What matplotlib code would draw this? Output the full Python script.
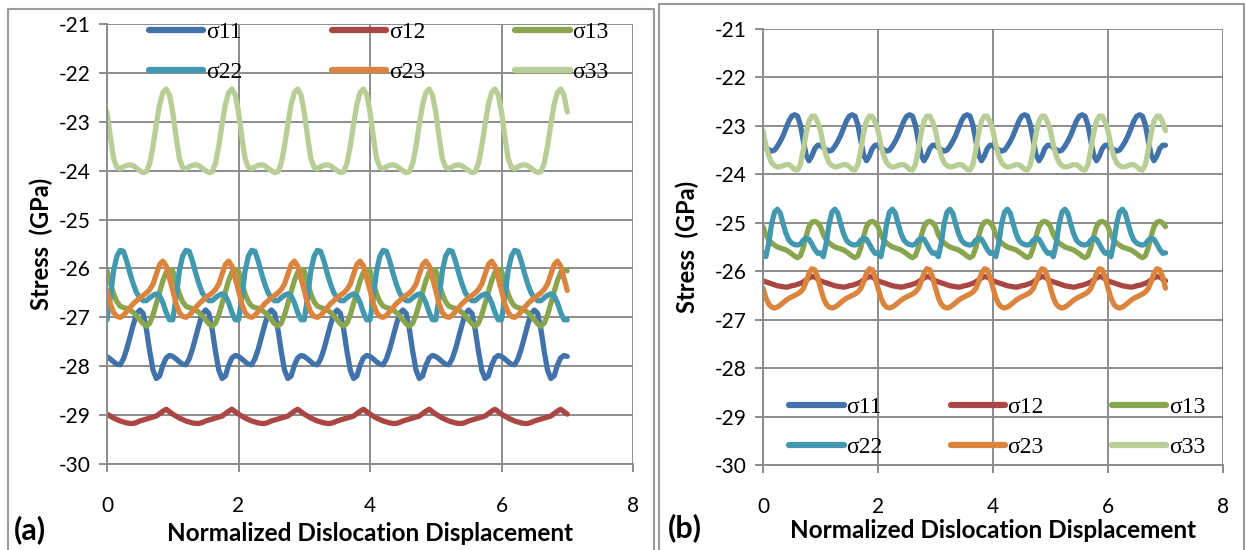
import numpy as np
import matplotlib.pyplot as plt
from matplotlib.lines import Line2D

plt.rcParams['axes.unicode_minus'] = False

# stress components sampled at 20 points per unit of dislocation displacement
# (the response repeats every unit, 7 units in total)
phase = np.arange(20) / 20.0
n_periods = 7

names = ['σ11', 'σ12', 'σ13', 'σ22', 'σ23', 'σ33']
colors = ['#4272AA', '#AA4643', '#89A54E', '#4198AF', '#DB843D', '#B9CD96']

# ---- case (a) ----
s11_a = [-27.80, -27.85, -27.91, -27.96, -27.97, -27.85, -27.65, -27.40, -27.15, -26.93,
         -26.85, -26.92, -27.25, -27.70, -28.08, -28.25, -28.20, -27.98, -27.83, -27.78]
s12_a = [-28.98, -29.02, -29.06, -29.09, -29.12, -29.14, -29.16, -29.17, -29.17, -29.15,
         -29.12, -29.10, -29.08, -29.06, -29.04, -29.02, -28.97, -28.92, -28.88, -28.93]
s13_a = [-26.05, -26.30, -26.52, -26.68, -26.77, -26.80, -26.82, -26.85, -26.90, -26.97,
         -27.05, -27.13, -27.18, -27.12, -26.95, -26.72, -26.48, -26.25, -26.08, -26.02]
s22_a = [-27.05, -26.60, -26.05, -25.75, -25.63, -25.65, -25.85, -26.10, -26.32, -26.50,
         -26.60, -26.66, -26.66, -26.60, -26.55, -26.52, -26.56, -26.70, -26.90, -27.05]
s23_a = [-26.45, -26.72, -26.90, -26.98, -27.00, -26.96, -26.88, -26.80, -26.72, -26.66,
         -26.60, -26.55, -26.50, -26.43, -26.32, -26.12, -25.92, -25.85, -25.95, -26.20]
s33_a = [-22.80, -23.30, -23.75, -23.93, -23.96, -23.92, -23.89, -23.88, -23.90, -23.95,
         -24.00, -24.04, -24.02, -23.85, -23.50, -23.05, -22.65, -22.40, -22.33, -22.45]

# ---- case (b) ----
s11_b = [-23.40, -23.45, -23.49, -23.52, -23.50, -23.42, -23.32, -23.20, -23.05, -22.90,
         -22.80, -22.77, -22.80, -22.98, -23.30, -23.60, -23.72, -23.62, -23.47, -23.40]
s12_b = [-26.20, -26.22, -26.24, -26.26, -26.28, -26.30, -26.31, -26.32, -26.33, -26.32,
         -26.30, -26.29, -26.27, -26.25, -26.22, -26.18, -26.14, -26.11, -26.12, -26.16]
s13_b = [-25.08, -25.25, -25.35, -25.42, -25.46, -25.50, -25.52, -25.54, -25.56, -25.60,
         -25.64, -25.69, -25.72, -25.68, -25.52, -25.28, -25.08, -24.99, -24.97, -25.00]
s22_b = [-25.62, -25.70, -25.42, -25.02, -24.78, -24.72, -24.80, -25.02, -25.22, -25.36,
         -25.42, -25.45, -25.46, -25.44, -25.36, -25.32, -25.34, -25.44, -25.55, -25.63]
s23_b = [-26.35, -26.55, -26.68, -26.74, -26.76, -26.74, -26.70, -26.65, -26.60, -26.56,
         -26.53, -26.50, -26.47, -26.43, -26.36, -26.22, -26.04, -25.95, -25.97, -26.12]
s33_b = [-23.10, -23.40, -23.62, -23.76, -23.82, -23.85, -23.84, -23.82, -23.80, -23.80,
         -23.84, -23.90, -23.91, -23.80, -23.50, -23.15, -22.90, -22.80, -22.80, -22.92]

xticks = [0, 2, 4, 6, 8]
yticks = list(range(-30, -20))

tick_font = 'Lato'
legend_font = 'Liberation Serif'
grid_col = '#8C8C8C'

x_full = np.append((np.arange(n_periods)[:, None] + phase[None, :]).ravel(), n_periods)


def full_series(one_period):
    vals = np.asarray(one_period)
    return np.append(np.tile(vals, n_periods), vals[0])


def style_axes(ax, ylab_x, xlab_y):
    ax.set_xlim(0, 8)
    ax.set_ylim(-30, -21)
    ax.set_xticks(xticks)
    ax.set_yticks(yticks)
    ax.grid(True, color=grid_col, linewidth=1.4, zorder=0)
    ax.set_axisbelow(True)
    for side in ['top', 'right']:
        ax.spines[side].set_visible(False)
    for side in ['left', 'bottom']:
        ax.spines[side].set_color(grid_col)
        ax.spines[side].set_linewidth(1.4)
    ax.tick_params(axis='both', direction='out', length=6, width=1.4, color=grid_col,
                   labelsize=15)
    ax.tick_params(axis='x', pad=17)
    ax.tick_params(axis='y', pad=6)
    for lab in ax.get_xticklabels() + ax.get_yticklabels():
        lab.set_family(tick_font)
    ax.set_xlabel('Normalized Dislocation Displacement', fontsize=17.5, fontweight='bold',
                  family=tick_font)
    ax.set_ylabel('Stress  (GPa)', fontsize=17, fontweight='bold', family=tick_font)
    ax.yaxis.set_label_coords(ylab_x, 0.5)
    ax.xaxis.set_label_coords(0.5, xlab_y)


def draw_case(ax, series):
    handles = []
    for vals, name, col in zip(series, names, colors):
        h, = ax.plot(x_full, full_series(vals), color=col, linewidth=3.8,
                     solid_capstyle='round', solid_joinstyle='round', label=name)
        handles.append(h)
    # legend reads row-wise: σ11 σ12 σ13 / σ22 σ23 σ33
    return [handles[i] for i in (0, 3, 1, 4, 2, 5)]


fig = plt.figure(figsize=(12.47, 5.5), dpi=100)
W, H = 1247.0, 550.0

ax_a = fig.add_axes([107 / W, 86 / H, 526 / W, 440 / H])
ax_b = fig.add_axes([763 / W, 85 / H, 460 / W, 436 / H])

hand_a = draw_case(ax_a, [s11_a, s12_a, s13_a, s22_a, s23_a, s33_a])
hand_b = draw_case(ax_b, [s11_b, s12_b, s13_b, s22_b, s23_b, s33_b])

style_axes(ax_a, -0.103, -0.132)
style_axes(ax_b, -0.14, -0.124)

leg_kw = dict(ncol=3, loc='upper left', frameon=False, borderpad=0, borderaxespad=0,
              handlelength=2.3, handletextpad=0.1, labelspacing=0.8,
              prop={'family': legend_font, 'size': 17})
leg_a = ax_a.legend(handles=hand_a, bbox_to_anchor=(0.08, 1.006), columnspacing=3.82,
                    **leg_kw)
leg_b = ax_b.legend(handles=hand_b, bbox_to_anchor=(0.057, 0.157), columnspacing=2.9,
                    **leg_kw)
for leg in (leg_a, leg_b):
    for ln in leg.get_lines():
        ln.set_linewidth(4.5)

# panel captions
fig.text(14 / W, 1 - 530 / H, '(a)', fontsize=22, fontweight='bold', family=tick_font,
         va='center', ha='left')
fig.text(668 / W, 1 - 528 / H, '(b)', fontsize=22, fontweight='bold', family=tick_font,
         va='center', ha='left')

# outer frames around the two panels
frame_col = '#9A9A9A'
for x0, y0, x1 in [(8, 9, 654), (659, 4, 1244)]:
    pts_x = [x0 / W, x0 / W, x1 / W, x1 / W]
    pts_y = [0, 1 - y0 / H, 1 - y0 / H, 0]
    fig.add_artist(Line2D(pts_x, pts_y, color=frame_col, linewidth=1.5,
                          transform=fig.transFigure))

fig.savefig('out.png', dpi=100)
